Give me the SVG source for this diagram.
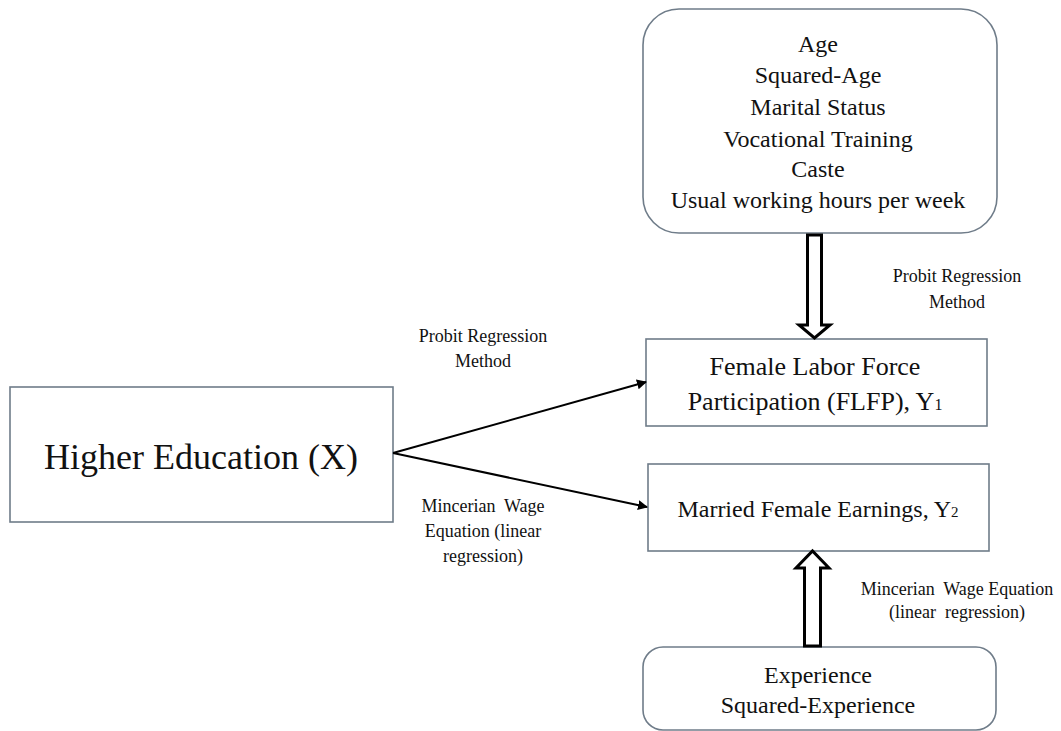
<svg xmlns="http://www.w3.org/2000/svg" width="1061" height="731" viewBox="0 0 1061 731">
<style>
  text { font-family: "Liberation Serif", "Times New Roman", serif; fill: #111; text-anchor: middle; }
  .box { fill: #fff; stroke: #6f7c89; stroke-width: 1.6; }
  .line { stroke: #000; stroke-width: 2; fill: none; }
  .block { fill: #fff; stroke: #000; stroke-width: 3; stroke-linejoin: miter; }
  .lbl { font-size: 18px; white-space: pre; }
</style>
<defs>
  <marker id="ah" viewBox="0 0 10 10" refX="9" refY="5" markerWidth="5" markerHeight="5" orient="auto" markerUnits="strokeWidth">
    <path d="M0,0 L10,5 L0,10 z" fill="#000"/>
  </marker>
</defs>
<rect width="1061" height="731" fill="#fff"/>

<g id="controls-top">
  <rect class="box" x="643" y="9" width="354" height="224" rx="36" ry="36"/>
  <text font-size="24" x="818" y="52">Age</text>
  <text font-size="24" x="818" y="83">Squared-Age</text>
  <text font-size="24" x="818" y="115">Marital Status</text>
  <text font-size="24" x="818" y="147">Vocational Training</text>
  <text font-size="24" x="818" y="177">Caste</text>
  <text font-size="24" x="818" y="208">Usual working hours per week</text>
</g>

<g id="higher-education">
  <rect class="box" x="10" y="387" width="383" height="135"/>
  <text font-size="36" x="201" y="469">Higher Education (X)</text>
</g>

<g id="flfp">
  <rect class="box" x="646" y="339" width="341" height="87"/>
  <text font-size="26" x="815" y="375">Female Labor Force</text>
  <text font-size="26" x="815" y="410">Participation (FLFP), Y<tspan font-size="16">1</tspan></text>
</g>

<g id="earnings">
  <rect class="box" x="648" y="464" width="341" height="87"/>
  <text font-size="24" x="818" y="517">Married Female Earnings, Y<tspan font-size="15">2</tspan></text>
</g>

<g id="controls-bottom">
  <rect class="box" x="643" y="647" width="353" height="83" rx="20" ry="20"/>
  <text font-size="24" x="818" y="683">Experience</text>
  <text font-size="24" x="818" y="713">Squared-Experience</text>
</g>

<g id="connectors">
  <line class="line" x1="393" y1="453" x2="646" y2="382" marker-end="url(#ah)"/>
  <line class="line" x1="393" y1="453" x2="647" y2="507" marker-end="url(#ah)"/>
  <path class="block" d="M807.5,235 L821.5,235 L821.5,325 L830,325 L814.5,338 L799,325 L807.5,325 Z"/>
  <path class="block" d="M804.5,646 L820.5,646 L820.5,568 L829,568 L812.5,551 L796,568 L804.5,568 Z"/>
</g>

<g id="labels">
  <text class="lbl" x="483" y="342">Probit Regression</text>
  <text class="lbl" x="483" y="367">Method</text>
  <text class="lbl" x="483" y="512">Mincerian  Wage</text>
  <text class="lbl" x="483" y="537">Equation (linear</text>
  <text class="lbl" x="483" y="562">regression)</text>
  <text class="lbl" font-size="20" x="957" y="282">Probit Regression</text>
  <text class="lbl" font-size="20" x="957" y="308">Method</text>
  <text class="lbl" x="957" y="595">Mincerian  Wage Equation</text>
  <text class="lbl" x="957" y="618">(linear  regression)</text>
</g>
</svg>
